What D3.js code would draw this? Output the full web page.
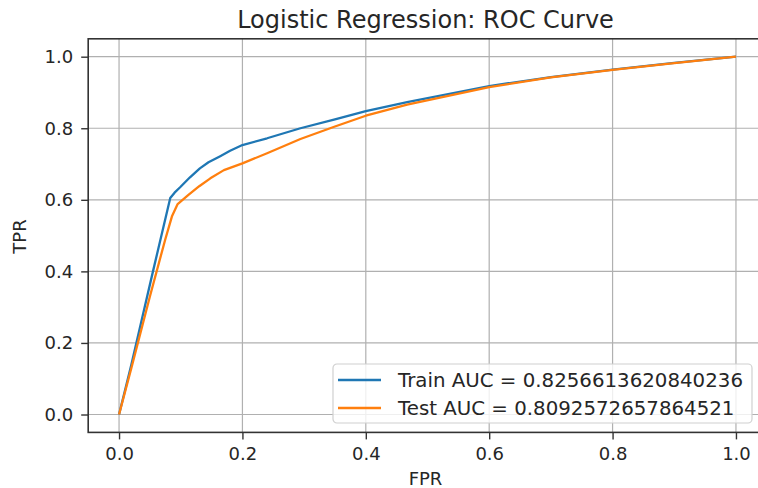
<!DOCTYPE html>
<html>
<head>
<meta charset="utf-8">
<script src="https://cdn.jsdelivr.net/npm/d3@7"></script>
<style>
  body { margin: 0; background: #fff; }
  text { font-family: "DejaVu Sans", sans-serif; fill: #262626; }
</style>
</head>
<body>
<div id="chart"></div>
<script>
// ROC points
var trainFpr = [0, 0.02, 0.055, 0.083, 0.09, 0.099, 0.115, 0.131, 0.145, 0.164, 0.18, 0.2, 0.24, 0.294, 0.35, 0.4, 0.467, 0.6, 0.7, 0.8, 0.9, 1.0];
var trainTpr = [0, 0.14, 0.4, 0.605, 0.62, 0.635, 0.663, 0.688, 0.705, 0.722, 0.737, 0.753, 0.772, 0.80, 0.825, 0.848, 0.873, 0.918, 0.943, 0.964, 0.983, 1.0];
var testFpr = [0, 0.02, 0.05, 0.075, 0.086, 0.095, 0.112, 0.13, 0.148, 0.17, 0.2, 0.24, 0.294, 0.35, 0.4, 0.467, 0.6, 0.7, 0.8, 0.9, 1.0];
var testTpr = [0, 0.13, 0.33, 0.49, 0.555, 0.588, 0.613, 0.638, 0.66, 0.683, 0.702, 0.73, 0.77, 0.805, 0.835, 0.866, 0.915, 0.942, 0.963, 0.982, 1.0];
var legendLabels = ["Train AUC = 0.8256613620840236", "Test AUC = 0.8092572657864521"];
var tickValues = [0, 0.2, 0.4, 0.6, 0.8, 1.0];

var W = 758, H = 488;
var margin = {top: 38.8, left: 88.2};
var width = 678.6, height = 393.6;

var svg = d3.select("#chart").append("svg")
  .attr("width", W).attr("height", H);

var g = svg.append("g")
  .attr("transform", "translate(" + margin.left + "," + margin.top + ")");

var x = d3.scaleLinear().domain([-0.05, 1.05]).range([0, width]);
var y = d3.scaleLinear().domain([-0.05, 1.05]).range([height, 0]);

// grid
g.append("g").selectAll("line").data(tickValues).enter().append("line")
  .attr("x1", d => x(d)).attr("x2", d => x(d))
  .attr("y1", 0).attr("y2", height)
  .attr("stroke", "#b0b0b0").attr("stroke-width", 1.2);
g.append("g").selectAll("line").data(tickValues).enter().append("line")
  .attr("y1", d => y(d)).attr("y2", d => y(d))
  .attr("x1", 0).attr("x2", width)
  .attr("stroke", "#b0b0b0").attr("stroke-width", 1.2);

// the curves
var line = d3.line().x(d => x(d[0])).y(d => y(d[1]));
var trainPts = trainFpr.map((f, i) => [f, trainTpr[i]]);
var testPts = testFpr.map((f, i) => [f, testTpr[i]]);

g.append("path").datum(trainPts)
  .attr("fill", "none").attr("stroke", "#1f77b4").attr("stroke-width", 2.3)
  .attr("stroke-linejoin", "round")
  .attr("d", line);
g.append("path").datum(testPts)
  .attr("fill", "none").attr("stroke", "#ff7f0e").attr("stroke-width", 2.3)
  .attr("stroke-linejoin", "round")
  .attr("d", line);

// axes
var fmt = d3.format(".1f");
var xAxis = g.append("g")
  .attr("transform", "translate(0," + height + ")")
  .call(d3.axisBottom(x).tickValues(tickValues).tickFormat(fmt).tickSize(7).tickPadding(8));
var yAxis = g.append("g")
  .call(d3.axisLeft(y).tickValues(tickValues).tickFormat(fmt).tickSize(7).tickPadding(8));
[xAxis, yAxis].forEach(a => {
  a.select(".domain").remove();
  a.selectAll("line").attr("stroke", "#333").attr("stroke-width", 1.4);
  a.selectAll("text").style("font-size", "18px").attr("fill", "#333")
    .style("font-family", "DejaVu Sans, sans-serif");
});

// spines
g.append("rect")
  .attr("x", 0).attr("y", 0).attr("width", width).attr("height", height)
  .attr("fill", "none").attr("stroke", "#333").attr("stroke-width", 1.6);

// title and axis labels
svg.append("text")
  .attr("x", margin.left + width / 2 - 2).attr("y", 28)
  .attr("text-anchor", "middle").style("font-size", "24px")
  .text("Logistic Regression: ROC Curve");
svg.append("text")
  .attr("x", margin.left + width / 2 - 2).attr("y", 485)
  .attr("text-anchor", "middle").style("font-size", "18px")
  .text("FPR");
svg.append("text")
  .attr("transform", "translate(26,236.5) rotate(-90)")
  .attr("text-anchor", "middle").style("font-size", "18px")
  .text("TPR");

// legend
var leg = svg.append("g").attr("transform", "translate(333,364)");
leg.append("rect")
  .attr("width", 419).attr("height", 59).attr("rx", 4)
  .attr("fill", "#fff").attr("fill-opacity", 0.8)
  .attr("stroke", "#d0d0d0").attr("stroke-width", 1.2);
var colors = ["#1f77b4", "#ff7f0e"];
var rows = leg.selectAll("g.row").data(legendLabels).enter().append("g")
  .attr("transform", (d, i) => "translate(0," + (16 + i * 28) + ")");
rows.append("line")
  .attr("x1", 5).attr("x2", 48).attr("y1", 0).attr("y2", 0)
  .attr("stroke", (d, i) => colors[i]).attr("stroke-width", 2.3);
rows.append("text")
  .attr("x", 65).attr("y", 7).style("font-size", "19.8px")
  .text(d => d);
</script>
</body>
</html>
